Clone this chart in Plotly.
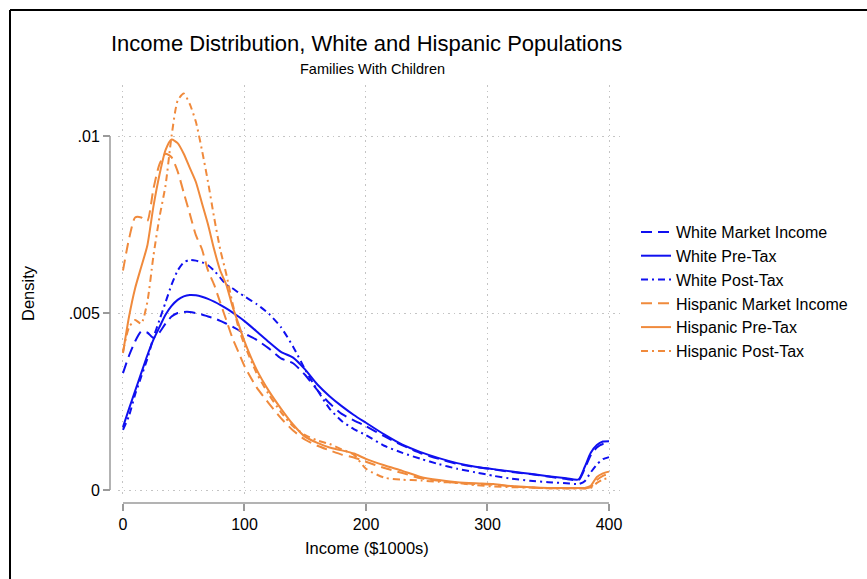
import plotly.graph_objects as go

# Income grid (in $1000s) on which the density estimates are evaluated
income = [0, 5, 10, 15, 20, 25, 30, 35, 40, 45, 50, 55, 60, 65, 70, 75, 80, 85, 90, 95,
          100, 110, 120, 130, 140, 150, 160, 170, 180, 190, 200, 215, 230, 245, 260, 275,
          290, 305, 320, 335, 350, 365, 375, 380, 385, 390, 395, 400]

white_market = [0.0033, 0.0038, 0.0042, 0.00448, 0.00445, 0.0043, 0.00445, 0.0047, 0.0049, 0.0050,
                0.00503, 0.00503, 0.0050, 0.00496, 0.0049, 0.00485, 0.00478, 0.0047, 0.00462, 0.00452,
                0.00442, 0.00424, 0.0040, 0.00372, 0.00358, 0.00325, 0.00282, 0.00245, 0.00215, 0.00197,
                0.0018, 0.00152, 0.00126, 0.00104, 0.00088, 0.00074, 0.00065, 0.00058, 0.00051, 0.00045,
                0.00038, 0.00031, 0.00028, 0.0006, 0.00098, 0.0012, 0.0013, 0.00132]

white_pretax = [0.00178, 0.0023, 0.0028, 0.0033, 0.0038, 0.00424, 0.0046, 0.00495, 0.0052, 0.00537,
                0.00547, 0.00551, 0.0055, 0.00546, 0.0054, 0.00532, 0.00523, 0.00513, 0.00502, 0.0049,
                0.00477, 0.00448, 0.00418, 0.0039, 0.00374, 0.0034, 0.00298, 0.00265, 0.00237, 0.00212,
                0.0019, 0.00157, 0.00128, 0.00107, 0.0009, 0.00076, 0.00066, 0.00059, 0.00052, 0.00046,
                0.00039, 0.00033, 0.0003, 0.00065, 0.00105, 0.00127, 0.00137, 0.00138]

white_posttax = [0.0017, 0.0021, 0.0027, 0.0032, 0.0037, 0.0043, 0.0048, 0.0053, 0.0058, 0.0062,
                 0.00643, 0.0065, 0.00648, 0.00643, 0.00635, 0.0062, 0.0060, 0.0058, 0.0057, 0.00558,
                 0.00547, 0.00525, 0.00498, 0.0046, 0.00405, 0.0034, 0.00282, 0.0023, 0.00195, 0.00172,
                 0.00155, 0.00125, 0.00105, 0.00088, 0.00073, 0.0006, 0.0005, 0.0004, 0.00032, 0.00026,
                 0.00022, 0.00019, 0.00017, 0.00025, 0.0005, 0.00072, 0.00087, 0.00093]

hisp_market = [0.0062, 0.0071, 0.0077, 0.0077, 0.0076, 0.0085, 0.0092, 0.0095, 0.0094, 0.0090,
               0.0084, 0.0078, 0.0072, 0.0068, 0.0062, 0.0058, 0.0053, 0.0048, 0.0043, 0.0039,
               0.0035, 0.0029, 0.00245, 0.00203, 0.00168, 0.00142, 0.00125, 0.00112, 0.0010, 0.00092,
               0.0008, 0.00062, 0.00048, 0.00033, 0.00026, 0.0002, 0.00017, 0.00015, 0.0001, 0.00007,
               0.00005, 0.00005, 0.00005, 0.00005, 0.00008, 0.00028, 0.0004, 0.00046]

hisp_pretax = [0.00387, 0.0049, 0.0057, 0.0063, 0.0069, 0.0080, 0.0089, 0.0096, 0.0099, 0.0098,
               0.0095, 0.0091, 0.0087, 0.0081, 0.0075, 0.0068, 0.0062, 0.0058, 0.0052, 0.0047,
               0.0042, 0.0034, 0.0028, 0.0023, 0.00185, 0.0015, 0.00133, 0.0012, 0.00112, 0.00103,
               0.00088, 0.0007, 0.00054, 0.00037, 0.00028, 0.00022, 0.00019, 0.00017, 0.00011, 0.00008,
               0.00006, 0.00006, 0.00006, 0.00006, 0.00012, 0.00037, 0.00047, 0.00052]

hisp_posttax = [0.0039, 0.0046, 0.0048, 0.0047, 0.0053, 0.0066, 0.0077, 0.0086, 0.0100, 0.0110,
                0.0112, 0.0109, 0.0104, 0.0096, 0.0087, 0.0077, 0.0068, 0.0061, 0.0053, 0.0046,
                0.0041, 0.0033, 0.0027, 0.0022, 0.0018, 0.00155, 0.0014, 0.0013, 0.00115, 0.0010,
                0.0006, 0.00035, 0.00029, 0.00027, 0.00023, 0.0002, 0.00014, 0.0001, 0.00008, 0.00007,
                0.00005, 0.00004, 0.00004, 0.00004, 0.00006, 0.0002, 0.0003, 0.00034]

x_ticks = [0, 100, 200, 300, 400]
x_ticklabels = ["0", "100", "200", "300", "400"]
y_ticks = [0, 0.005, 0.01]
y_ticklabels = ["0", ".005", ".01"]

BLUE = "#1010f0"
ORANGE = "#f08a3c"
DASH = "11px,6px"
DASHDOT = "7px,4px,2px,4px"
FONT = "Liberation Sans, Arial, Helvetica, sans-serif"

series = [
    ("White Market Income", white_market, BLUE, DASH),
    ("White Pre-Tax", white_pretax, BLUE, "solid"),
    ("White Post-Tax", white_posttax, BLUE, DASHDOT),
    ("Hispanic Market Income", hisp_market, ORANGE, DASH),
    ("Hispanic Pre-Tax", hisp_pretax, ORANGE, "solid"),
    ("Hispanic Post-Tax", hisp_posttax, ORANGE, DASHDOT),
]

fig = go.Figure()
for name, vals, color, dash in series:
    fig.add_trace(go.Scatter(
        x=income, y=vals, mode="lines", name=name,
        line=dict(color=color, width=2, dash=dash, shape="spline", smoothing=0.6),
    ))

W, H = 867, 579
# plot region in pixels
px_left, px_right = 118, 622
px_top, px_bottom = 85, 495
yaxis_px = 110   # offset y axis line
xaxis_px = 503   # offset x axis line

x_range = [-4.1, 410.7]
y_range = [-0.000141, 0.011441]

GRID = dict(showgrid=True, gridcolor="#c4c4c4", griddash="1.5px,4px", gridwidth=1.2)

fig.update_layout(
    width=W, height=H,
    margin=dict(l=0, r=0, t=0, b=0),
    paper_bgcolor="white", plot_bgcolor="white",
    font=dict(family=FONT, color="black"),
    showlegend=True,
    legend=dict(
        x=636 / W, y=1 - 215 / H, xanchor="left", yanchor="top",
        font=dict(size=16, family=FONT, color="black"),
        bgcolor="rgba(0,0,0,0)", tracegroupgap=0,
    ),
    xaxis=dict(
        domain=[px_left / W, px_right / W], range=x_range,
        anchor="free", position=1 - xaxis_px / H,
        tickvals=x_ticks, ticktext=x_ticklabels,
        ticks="outside", ticklen=7, tickwidth=1.5, tickcolor="#9a9a9a",
        tickfont=dict(size=16, color="black"),
        zeroline=False, showline=False, automargin=False, **GRID,
    ),
    yaxis=dict(
        domain=[1 - px_bottom / H, 1 - px_top / H], range=y_range,
        anchor="free", position=yaxis_px / W,
        tickvals=y_ticks, ticktext=y_ticklabels,
        ticks="outside", ticklen=7, tickwidth=1.5, tickcolor="#9a9a9a",
        tickfont=dict(size=16, color="black"),
        zeroline=False, showline=False, automargin=False, **GRID,
    ),
)

# axis spines spanning the tick range only
fig.add_shape(type="line", xref="paper", yref="y",
              x0=yaxis_px / W, x1=yaxis_px / W, y0=y_ticks[0], y1=y_ticks[-1],
              line=dict(color="#9a9a9a", width=1.5))
fig.add_shape(type="line", xref="x", yref="paper",
              x0=x_ticks[0], x1=x_ticks[-1], y0=1 - xaxis_px / H, y1=1 - xaxis_px / H,
              line=dict(color="#9a9a9a", width=1.5))

# outer frame (top and left edges)
fig.add_shape(type="line", xref="paper", yref="paper",
              x0=10 / W, x1=1, y0=1 - 10 / H, y1=1 - 10 / H,
              line=dict(color="black", width=2))
fig.add_shape(type="line", xref="paper", yref="paper",
              x0=10 / W, x1=10 / W, y0=0, y1=1 - 10 / H,
              line=dict(color="black", width=2))

# titles
fig.add_annotation(text="Income Distribution, White and Hispanic Populations",
                   xref="paper", yref="paper", x=366 / W, y=1 - 43 / H,
                   xanchor="center", yanchor="middle", showarrow=False,
                   font=dict(size=22, family=FONT, color="black"))
fig.add_annotation(text="Families With Children",
                   xref="paper", yref="paper", x=372 / W, y=1 - 69 / H,
                   xanchor="center", yanchor="middle", showarrow=False,
                   font=dict(size=14.5, family=FONT, color="black"))
fig.add_annotation(text="Income ($1000s)",
                   xref="paper", yref="paper", x=367 / W, y=1 - 548 / H,
                   xanchor="center", yanchor="middle", showarrow=False,
                   font=dict(size=16.5, family=FONT, color="black"))
fig.add_annotation(text="Density",
                   xref="paper", yref="paper", x=28 / W, y=1 - 293 / H,
                   xanchor="center", yanchor="middle", showarrow=False, textangle=-90,
                   font=dict(size=16.5, family=FONT, color="black"))

fig.write_html("out.html")
